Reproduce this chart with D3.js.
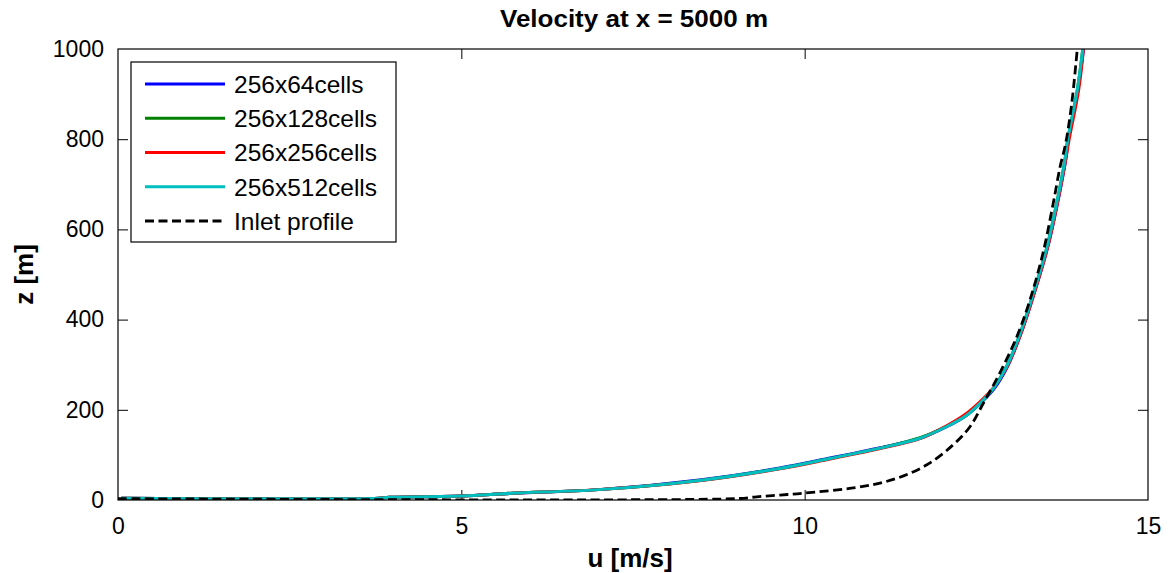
<!DOCTYPE html>
<html>
<head>
<meta charset="utf-8">
<script src="https://cdn.jsdelivr.net/npm/d3@7"></script>
<style>
  html, body { margin: 0; padding: 0; background: #fff; }
  svg { display: block; font-family: "Liberation Sans", Arial, Helvetica, sans-serif; }
</style>
</head>
<body>
<svg id="chart" width="1172" height="573"></svg>
<script>
// Velocity profiles u(z) at x = 5000 m for four grid resolutions + inlet profile
const seriesNames = ["256x64cells", "256x128cells", "256x256cells", "256x512cells", "Inlet profile"];
const seriesColors = ["#0000ff", "#008000", "#ff0000", "#00bfbf", "#000000"];

const u64  = [0.05, 3.8, 3.95, 5.0, 5.75, 7.0, 8.5, 9.64, 10.37, 11.1, 11.68, 12.06, 12.35, 12.55, 12.76, 12.95, 13.15, 13.34, 13.54, 13.68, 13.8, 13.84, 13.98, 14.06];
const z64  = [4, 4, 6, 9, 15, 23, 45, 71, 93, 116, 137, 162, 187, 213, 247, 295, 369, 457, 561, 657, 753, 798, 909, 1000];
const u128 = [0.05, 3.8, 3.95, 5.0, 5.75, 7.0, 8.5, 9.64, 10.37, 11.1, 11.68, 12.07, 12.36, 12.55, 12.75, 12.94, 13.14, 13.33, 13.53, 13.67, 13.79, 13.83, 13.97, 14.05];
const z128 = [4, 4, 6, 9, 15, 23, 44, 70, 92, 115, 138, 164, 189, 214, 248, 296, 370, 458, 562, 658, 754, 798, 909, 1000];
const u256 = [0.05, 3.8, 3.95, 5.0, 5.75, 7.0, 8.5, 9.64, 10.37, 11.1, 11.68, 12.05, 12.34, 12.54, 12.75, 12.95, 13.15, 13.34, 13.54, 13.68, 13.8, 13.85, 13.99, 14.06];
const z256 = [4, 4, 6, 9, 15, 23, 43, 69, 91, 114, 136, 163, 190, 216, 249, 296, 369, 457, 561, 657, 753, 798, 909, 1000];
const u512 = [0.05, 3.8, 3.95, 5.0, 5.75, 7.0, 8.5, 9.64, 10.37, 11.1, 11.68, 12.07, 12.36, 12.55, 12.75, 12.94, 13.14, 13.33, 13.53, 13.67, 13.79, 13.83, 13.97, 14.05];
const z512 = [4, 4, 6, 9, 15, 23, 44, 70, 92, 115, 137, 163, 188, 214, 248, 296, 370, 458, 562, 658, 754, 798, 909, 1000];
const uInlet = [0, 9.0, 9.3, 9.64, 9.98, 10.85, 11.34, 11.78, 12.16, 12.41, 12.6, 12.84, 13.09, 13.28, 13.47, 13.62, 13.72, 13.8, 13.89, 13.97];
const zInlet = [3, 3, 7, 11, 15, 30, 48, 78, 122, 163, 214, 281, 362, 443, 547, 658, 739, 790, 880, 1000];

const xTicks = [0, 5, 10, 15];
const yTicks = [0, 200, 400, 600, 800, 1000];

const titleText = "Velocity at x = 5000 m";
const xLabel = "u [m/s]";
const yLabel = "z [m]";

const seriesU = [u64, u128, u256, u512, uInlet];
const seriesZ = [z64, z128, z256, z512, zInlet];

const box = { left: 118, right: 1148, top: 49, bottom: 500 };
const svg = d3.select("#chart");

const x = d3.scaleLinear().domain([0, 15]).range([box.left, box.right]);
const y = d3.scaleLinear().domain([0, 1000]).range([box.bottom, box.top]);

svg.append("defs").append("clipPath").attr("id", "plotClip")
  .append("rect")
  .attr("x", box.left).attr("y", box.top)
  .attr("width", box.right - box.left).attr("height", box.bottom - box.top);

const tickLen = 10;
const tickFont = "23px";

// axes with inward ticks on all four sides
const xAxisB = svg.append("g").attr("transform", `translate(0,${box.bottom})`)
  .call(d3.axisBottom(x).tickValues(xTicks).tickSizeInner(-tickLen).tickSizeOuter(0).tickPadding(tickLen + 8).tickFormat(d3.format("d")));
const xAxisT = svg.append("g").attr("transform", `translate(0,${box.top})`)
  .call(d3.axisTop(x).tickValues(xTicks).tickSizeInner(-tickLen).tickSizeOuter(0).tickFormat(""));
const yAxisL = svg.append("g").attr("transform", `translate(${box.left},0)`)
  .call(d3.axisLeft(y).tickValues(yTicks).tickSizeInner(-tickLen).tickSizeOuter(0).tickPadding(tickLen + 4).tickFormat(d3.format("d")));
const yAxisR = svg.append("g").attr("transform", `translate(${box.right},0)`)
  .call(d3.axisRight(y).tickValues(yTicks).tickSizeInner(-tickLen).tickSizeOuter(0).tickFormat(""));

[xAxisB, xAxisT, yAxisL, yAxisR].forEach(g => {
  g.select(".domain").remove();
  g.selectAll(".tick line").attr("stroke", "#000").attr("stroke-width", 1);
  g.selectAll("text").attr("fill", "#000").style("font-size", tickFont)
    .style("font-family", "'Liberation Sans', Arial, sans-serif");
});
xAxisT.selectAll(".tick").filter(d => d === 0 || d === 15).remove();
yAxisR.selectAll(".tick").filter(d => d === 0 || d === 1000).remove();
xAxisB.selectAll(".tick line").filter(d => d === 0 || d === 15).remove();
yAxisL.selectAll(".tick line").filter(d => d === 0 || d === 1000).remove();

// curves
const line = d3.line().curve(d3.curveCatmullRom.alpha(0.5)).x(d => x(d[0])).y(d => y(d[1]));
const plot = svg.append("g").attr("clip-path", "url(#plotClip)");
seriesNames.forEach((name, i) => {
  const pts = seriesU[i].map((u, k) => [u, seriesZ[i][k]]);
  const path = plot.append("path")
    .datum(pts)
    .attr("d", line)
    .attr("fill", "none")
    .attr("stroke", seriesColors[i])
    .attr("stroke-width", i === 4 ? 2.8 : 3)
    .attr("stroke-linejoin", "round");
  if (i === 4) path.attr("stroke-dasharray", "9,4.5");
});

// plot frame
svg.append("rect")
  .attr("x", box.left).attr("y", box.top)
  .attr("width", box.right - box.left).attr("height", box.bottom - box.top)
  .attr("fill", "none").attr("stroke", "#000").attr("stroke-width", 1.2);

// title and axis labels
svg.append("text")
  .attr("x", 634).attr("y", 27)
  .attr("text-anchor", "middle")
  .attr("textLength", 268).attr("lengthAdjust", "spacingAndGlyphs")
  .style("font-size", "23px").style("font-weight", "bold")
  .text(titleText);
svg.append("text")
  .attr("x", 630).attr("y", 567)
  .attr("text-anchor", "middle")
  .style("font-size", "26px").style("font-weight", "bold")
  .text(xLabel);
svg.append("text")
  .attr("transform", `translate(33,${(box.top + box.bottom) / 2}) rotate(-90)`)
  .attr("text-anchor", "middle")
  .style("font-size", "26px").style("font-weight", "bold")
  .text(yLabel);

// legend
const legend = svg.append("g");
legend.append("rect")
  .attr("x", 131).attr("y", 62).attr("width", 265).attr("height", 180)
  .attr("fill", "#fff").attr("stroke", "#000").attr("stroke-width", 1.2);
const rowY = d3.scalePoint().domain(seriesNames).range([84, 221]);
seriesNames.forEach((name, i) => {
  const ly = rowY(name);
  const seg = legend.append("line")
    .attr("x1", 145).attr("x2", 225).attr("y1", ly).attr("y2", ly)
    .attr("stroke", seriesColors[i]).attr("stroke-width", i === 4 ? 2.8 : 3);
  if (i === 4) seg.attr("stroke-dasharray", "9,4.5");
  legend.append("text")
    .attr("x", 234).attr("y", ly).attr("dy", "0.36em")
    .style("font-size", "24.5px")
    .text(name);
});
</script>
</body>
</html>
